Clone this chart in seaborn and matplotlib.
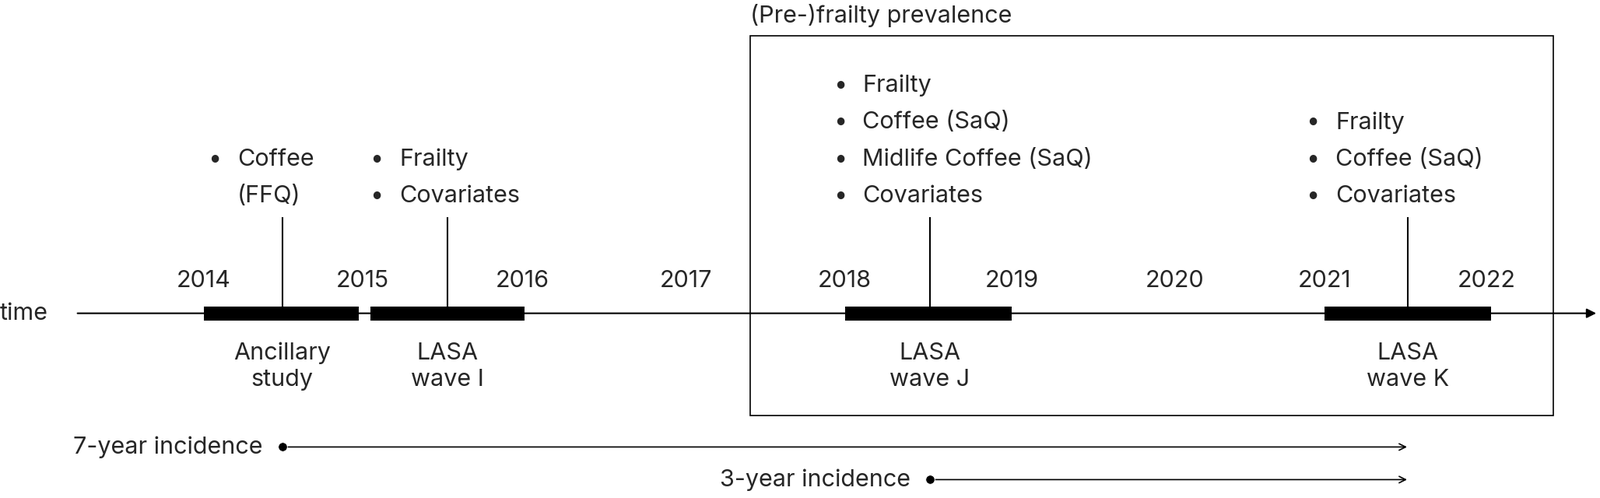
import matplotlib
matplotlib.use("Agg")
import matplotlib.pyplot as plt
import seaborn as sns

sns.set_theme(style="white", font="Inter")

# data (x in years along the timeline, y in layout units from top)
year_labels = ["2014", "2015", "2016", "2017", "2018", "2019", "2020", "2021", "2022"]
year_pos = [2014.0, 2014.99, 2015.99, 2017.01, 2018.0, 2019.04, 2020.06, 2020.99, 2022.0]
wave_names = ["Ancillary\nstudy", "LASA\nwave I", "LASA\nwave J", "LASA\nwave K"]
wave_start = [2014.0, 2015.04, 2018.0, 2020.99]
wave_end = [2014.97, 2016.0, 2019.04, 2022.03]
wave_mark = [2014.49, 2015.52, 2018.53, 2021.51]
wave_text_x = [2014.21, 2015.22, 2018.11, 2021.06]
wave_items = [["Coffee", "(FFQ)"], ["Frailty", "Covariates"],
              ["Frailty", "Coffee (SaQ)", "Midlife Coffee (SaQ)", "Covariates"],
              ["Frailty", "Coffee (SaQ)", "Covariates"]]
wave_bullets = [[True, False], [True, True], [True]*4, [True]*3]
inc_labels = ["7-year incidence", "3-year incidence"]
inc_start = [2014.49, 2018.53]
inc_end = [2021.52, 2021.52]

fig = plt.figure(figsize=(20.56, 6.4), dpi=100)
ax = fig.add_axes([0, 0, 1, 1])
ax.set_xlim(2012.73, 2022.71)
ax.set_ylim(488, 0)
ax.axis("off")
fs = 22
Y = 307

ax.text(2012.73, Y, "time", fontsize=fs, va="center", ha="left")
ax.annotate("", xy=(2022.70, Y), xytext=(2013.20, Y),
            arrowprops=dict(arrowstyle="-|>", color="black", lw=1.5, mutation_scale=18))
for x, lab in zip(year_pos, year_labels):
    ax.text(x, 275, lab, fontsize=fs, ha="center", va="center")

for name, s, e, m, tx, items, bl in zip(wave_names, wave_start, wave_end, wave_mark,
                                        wave_text_x, wave_items, wave_bullets):
    ax.hlines(Y, s, e, color="black", lw=13)
    ax.vlines(m, 213, Y, color="black", lw=1.5)
    n = len(items)
    ys = [192 - 36 * (n - 1 - i) for i in range(n)]
    for y, t, b in zip(ys, items, bl):
        ax.text(tx, y, t, fontsize=fs, ha="left", va="center")
        if b:
            ax.text(tx - 0.14, y, "•", fontsize=fs, ha="center", va="center")
    ax.text(m, 359, name, fontsize=fs, ha="center", va="center", linespacing=1.3)

ax.add_patch(plt.Rectangle((2017.41, 35), 2022.42 - 2017.41, 372, fill=False, ec="black", lw=1.2))
ax.text(2017.41, 15, "(Pre-)frailty prevalence", fontsize=fs, ha="left", va="center")

for i, (lab, s, e) in enumerate(zip(inc_labels, inc_start, inc_end)):
    y = 438 + 32 * i
    ax.annotate("", xy=(e, y), xytext=(s, y),
                arrowprops=dict(arrowstyle="->", color="black", lw=1.2, mutation_scale=15))
    sns.scatterplot(x=[s], y=[y], ax=ax, color="black", s=70, zorder=5)
    ax.text(s - 0.12, y, lab, fontsize=fs, ha="right", va="center")

fig.savefig("out.png", dpi=100)
